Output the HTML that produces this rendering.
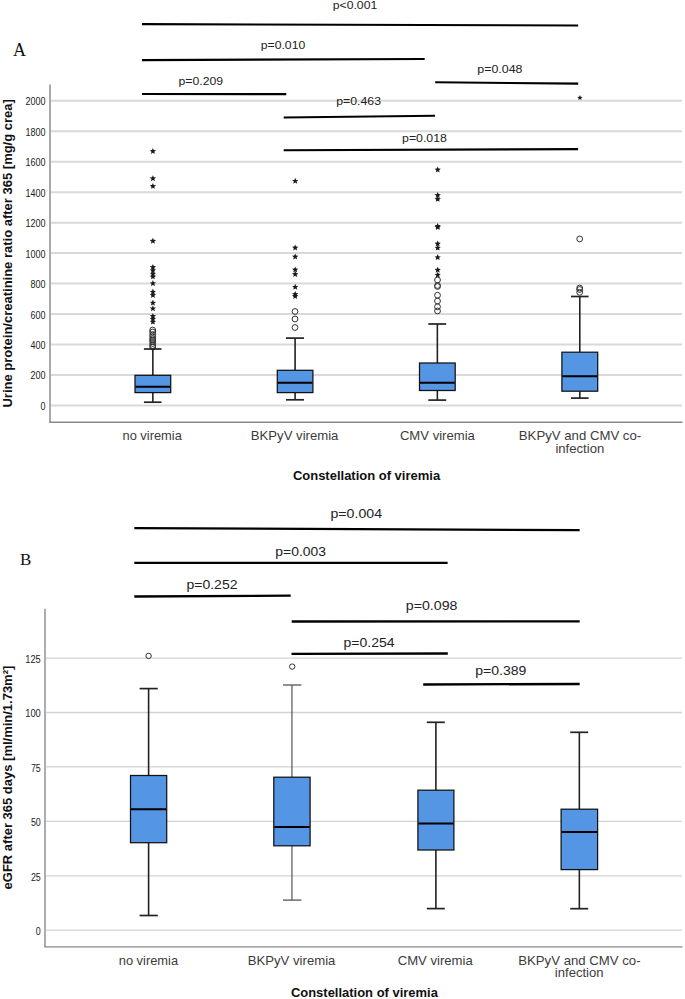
<!DOCTYPE html>
<html><head><meta charset="utf-8"><title>Boxplots</title>
<style>html,body{margin:0;padding:0;background:#fff;}svg{display:block;}

</style></head>
<body><svg width="685" height="999" viewBox="0 0 685 999">
<rect width="685" height="999" fill="#fff"/>
<line x1="51" y1="100.84" x2="682" y2="100.84" stroke="#d9d9d9" stroke-width="2" />
<line x1="51" y1="131.3" x2="682" y2="131.3" stroke="#d9d9d9" stroke-width="2" />
<line x1="51" y1="161.75" x2="682" y2="161.75" stroke="#d9d9d9" stroke-width="2" />
<line x1="51" y1="192.2" x2="682" y2="192.2" stroke="#d9d9d9" stroke-width="2" />
<line x1="51" y1="222.66" x2="682" y2="222.66" stroke="#d9d9d9" stroke-width="2" />
<line x1="51" y1="253.11" x2="682" y2="253.11" stroke="#d9d9d9" stroke-width="2" />
<line x1="51" y1="283.57" x2="682" y2="283.57" stroke="#d9d9d9" stroke-width="2" />
<line x1="51" y1="314.02" x2="682" y2="314.02" stroke="#d9d9d9" stroke-width="2" />
<line x1="51" y1="344.48" x2="682" y2="344.48" stroke="#d9d9d9" stroke-width="2" />
<line x1="51" y1="374.93" x2="682" y2="374.93" stroke="#d9d9d9" stroke-width="2" />
<line x1="51" y1="405.39" x2="682" y2="405.39" stroke="#d9d9d9" stroke-width="2" />
<text x="45.6" y="105.34" font-size="10" fill="#222" text-anchor="end" font-weight="normal" font-family="Liberation Sans, sans-serif" textLength="20.02" lengthAdjust="spacingAndGlyphs" >2000</text>
<text x="45.6" y="135.8" font-size="10" fill="#222" text-anchor="end" font-weight="normal" font-family="Liberation Sans, sans-serif" textLength="20.02" lengthAdjust="spacingAndGlyphs" >1800</text>
<text x="45.6" y="166.25" font-size="10" fill="#222" text-anchor="end" font-weight="normal" font-family="Liberation Sans, sans-serif" textLength="20.02" lengthAdjust="spacingAndGlyphs" >1600</text>
<text x="45.6" y="196.7" font-size="10" fill="#222" text-anchor="end" font-weight="normal" font-family="Liberation Sans, sans-serif" textLength="20.02" lengthAdjust="spacingAndGlyphs" >1400</text>
<text x="45.6" y="227.16" font-size="10" fill="#222" text-anchor="end" font-weight="normal" font-family="Liberation Sans, sans-serif" textLength="20.02" lengthAdjust="spacingAndGlyphs" >1200</text>
<text x="45.6" y="257.62" font-size="10" fill="#222" text-anchor="end" font-weight="normal" font-family="Liberation Sans, sans-serif" textLength="20.02" lengthAdjust="spacingAndGlyphs" >1000</text>
<text x="45.6" y="288.07" font-size="10" fill="#222" text-anchor="end" font-weight="normal" font-family="Liberation Sans, sans-serif" textLength="15.01" lengthAdjust="spacingAndGlyphs" >800</text>
<text x="45.6" y="318.52" font-size="10" fill="#222" text-anchor="end" font-weight="normal" font-family="Liberation Sans, sans-serif" textLength="15.01" lengthAdjust="spacingAndGlyphs" >600</text>
<text x="45.6" y="348.98" font-size="10" fill="#222" text-anchor="end" font-weight="normal" font-family="Liberation Sans, sans-serif" textLength="15.01" lengthAdjust="spacingAndGlyphs" >400</text>
<text x="45.6" y="379.43" font-size="10" fill="#222" text-anchor="end" font-weight="normal" font-family="Liberation Sans, sans-serif" textLength="15.01" lengthAdjust="spacingAndGlyphs" >200</text>
<text x="45.6" y="409.89" font-size="10" fill="#222" text-anchor="end" font-weight="normal" font-family="Liberation Sans, sans-serif" textLength="5.0" lengthAdjust="spacingAndGlyphs" >0</text>
<line x1="50" y1="84.4" x2="50" y2="422.2" stroke="#a9a9a9" stroke-width="2" />
<line x1="49.2" y1="422.2" x2="682.5" y2="422.2" stroke="#888" stroke-width="1.4" />
<polygon points="152.90,148.00 153.77,150.10 156.04,150.28 154.31,151.76 154.84,153.97 152.90,152.79 150.96,153.97 151.49,151.76 149.76,150.28 152.03,150.10" fill="#1a1a1a"/>
<polygon points="152.90,175.20 153.77,177.30 156.04,177.48 154.31,178.96 154.84,181.17 152.90,179.99 150.96,181.17 151.49,178.96 149.76,177.48 152.03,177.30" fill="#1a1a1a"/>
<polygon points="152.90,182.90 153.77,185.00 156.04,185.18 154.31,186.66 154.84,188.87 152.90,187.69 150.96,188.87 151.49,186.66 149.76,185.18 152.03,185.00" fill="#1a1a1a"/>
<polygon points="152.90,237.70 153.77,239.80 156.04,239.98 154.31,241.46 154.84,243.67 152.90,242.49 150.96,243.67 151.49,241.46 149.76,239.98 152.03,239.80" fill="#1a1a1a"/>
<polygon points="152.90,263.90 153.77,266.00 156.04,266.18 154.31,267.66 154.84,269.87 152.90,268.69 150.96,269.87 151.49,267.66 149.76,266.18 152.03,266.00" fill="#1a1a1a"/>
<polygon points="152.90,267.20 153.77,269.30 156.04,269.48 154.31,270.96 154.84,273.17 152.90,271.99 150.96,273.17 151.49,270.96 149.76,269.48 152.03,269.30" fill="#1a1a1a"/>
<polygon points="152.90,270.60 153.77,272.70 156.04,272.88 154.31,274.36 154.84,276.57 152.90,275.39 150.96,276.57 151.49,274.36 149.76,272.88 152.03,272.70" fill="#1a1a1a"/>
<polygon points="152.90,273.40 153.77,275.50 156.04,275.68 154.31,277.16 154.84,279.37 152.90,278.19 150.96,279.37 151.49,277.16 149.76,275.68 152.03,275.50" fill="#1a1a1a"/>
<polygon points="152.90,280.10 153.77,282.20 156.04,282.38 154.31,283.86 154.84,286.07 152.90,284.89 150.96,286.07 151.49,283.86 149.76,282.38 152.03,282.20" fill="#1a1a1a"/>
<polygon points="152.90,288.60 153.77,290.70 156.04,290.88 154.31,292.36 154.84,294.57 152.90,293.39 150.96,294.57 151.49,292.36 149.76,290.88 152.03,290.70" fill="#1a1a1a"/>
<polygon points="152.90,292.00 153.77,294.10 156.04,294.28 154.31,295.76 154.84,297.97 152.90,296.79 150.96,297.97 151.49,295.76 149.76,294.28 152.03,294.10" fill="#1a1a1a"/>
<polygon points="152.90,299.60 153.77,301.70 156.04,301.88 154.31,303.36 154.84,305.57 152.90,304.39 150.96,305.57 151.49,303.36 149.76,301.88 152.03,301.70" fill="#1a1a1a"/>
<polygon points="152.90,305.30 153.77,307.40 156.04,307.58 154.31,309.06 154.84,311.27 152.90,310.09 150.96,311.27 151.49,309.06 149.76,307.58 152.03,307.40" fill="#1a1a1a"/>
<polygon points="152.90,312.90 153.77,315.00 156.04,315.18 154.31,316.66 154.84,318.87 152.90,317.69 150.96,318.87 151.49,316.66 149.76,315.18 152.03,315.00" fill="#1a1a1a"/>
<polygon points="152.90,315.70 153.77,317.80 156.04,317.98 154.31,319.46 154.84,321.67 152.90,320.49 150.96,321.67 151.49,319.46 149.76,317.98 152.03,317.80" fill="#1a1a1a"/>
<polygon points="152.90,318.60 153.77,320.70 156.04,320.88 154.31,322.36 154.84,324.57 152.90,323.39 150.96,324.57 151.49,322.36 149.76,320.88 152.03,320.70" fill="#1a1a1a"/>
<circle cx="152.7" cy="330" r="2.9" fill="none" stroke="#333" stroke-width="1.0"/>
<circle cx="152.7" cy="332" r="2.9" fill="none" stroke="#333" stroke-width="1.0"/>
<circle cx="152.7" cy="334.5" r="2.9" fill="none" stroke="#333" stroke-width="1.0"/>
<circle cx="152.7" cy="336.5" r="2.9" fill="none" stroke="#333" stroke-width="1.0"/>
<circle cx="152.7" cy="338.5" r="2.9" fill="none" stroke="#333" stroke-width="1.0"/>
<circle cx="152.7" cy="340" r="2.9" fill="none" stroke="#333" stroke-width="1.0"/>
<circle cx="152.7" cy="341.5" r="2.9" fill="none" stroke="#333" stroke-width="1.0"/>
<circle cx="152.7" cy="343.5" r="2.9" fill="none" stroke="#333" stroke-width="1.0"/>
<circle cx="152.7" cy="345.5" r="2.9" fill="none" stroke="#333" stroke-width="1.0"/>
<circle cx="152.7" cy="347" r="2.9" fill="none" stroke="#333" stroke-width="1.0"/>
<polygon points="295.20,177.80 296.07,179.90 298.34,180.08 296.61,181.56 297.14,183.77 295.20,182.59 293.26,183.77 293.79,181.56 292.06,180.08 294.33,179.90" fill="#1a1a1a"/>
<polygon points="295.20,244.50 296.07,246.60 298.34,246.78 296.61,248.26 297.14,250.47 295.20,249.29 293.26,250.47 293.79,248.26 292.06,246.78 294.33,246.60" fill="#1a1a1a"/>
<polygon points="295.20,253.50 296.07,255.60 298.34,255.78 296.61,257.26 297.14,259.47 295.20,258.29 293.26,259.47 293.79,257.26 292.06,255.78 294.33,255.60" fill="#1a1a1a"/>
<polygon points="295.20,266.50 296.07,268.60 298.34,268.78 296.61,270.26 297.14,272.47 295.20,271.29 293.26,272.47 293.79,270.26 292.06,268.78 294.33,268.60" fill="#1a1a1a"/>
<polygon points="295.20,271.00 296.07,273.10 298.34,273.28 296.61,274.76 297.14,276.97 295.20,275.79 293.26,276.97 293.79,274.76 292.06,273.28 294.33,273.10" fill="#1a1a1a"/>
<polygon points="295.20,283.80 296.07,285.90 298.34,286.08 296.61,287.56 297.14,289.77 295.20,288.59 293.26,289.77 293.79,287.56 292.06,286.08 294.33,285.90" fill="#1a1a1a"/>
<polygon points="295.20,291.00 296.07,293.10 298.34,293.28 296.61,294.76 297.14,296.97 295.20,295.79 293.26,296.97 293.79,294.76 292.06,293.28 294.33,293.10" fill="#1a1a1a"/>
<polygon points="295.20,293.00 296.07,295.10 298.34,295.28 296.61,296.76 297.14,298.97 295.20,297.79 293.26,298.97 293.79,296.76 292.06,295.28 294.33,295.10" fill="#1a1a1a"/>
<circle cx="295" cy="311.5" r="2.9" fill="none" stroke="#333" stroke-width="1.0"/>
<circle cx="295" cy="319" r="2.9" fill="none" stroke="#333" stroke-width="1.0"/>
<circle cx="295" cy="327.5" r="2.9" fill="none" stroke="#333" stroke-width="1.0"/>
<polygon points="437.70,166.50 438.57,168.60 440.84,168.78 439.11,170.26 439.64,172.47 437.70,171.29 435.76,172.47 436.29,170.26 434.56,168.78 436.83,168.60" fill="#1a1a1a"/>
<polygon points="437.70,192.00 438.57,194.10 440.84,194.28 439.11,195.76 439.64,197.97 437.70,196.79 435.76,197.97 436.29,195.76 434.56,194.28 436.83,194.10" fill="#1a1a1a"/>
<polygon points="437.70,195.90 438.57,198.00 440.84,198.18 439.11,199.66 439.64,201.87 437.70,200.69 435.76,201.87 436.29,199.66 434.56,198.18 436.83,198.00" fill="#1a1a1a"/>
<polygon points="437.70,223.00 438.57,225.10 440.84,225.28 439.11,226.76 439.64,228.97 437.70,227.79 435.76,228.97 436.29,226.76 434.56,225.28 436.83,225.10" fill="#1a1a1a"/>
<polygon points="437.70,224.00 438.57,226.10 440.84,226.28 439.11,227.76 439.64,229.97 437.70,228.79 435.76,229.97 436.29,227.76 434.56,226.28 436.83,226.10" fill="#1a1a1a"/>
<polygon points="437.70,240.50 438.57,242.60 440.84,242.78 439.11,244.26 439.64,246.47 437.70,245.29 435.76,246.47 436.29,244.26 434.56,242.78 436.83,242.60" fill="#1a1a1a"/>
<polygon points="437.70,244.60 438.57,246.70 440.84,246.88 439.11,248.36 439.64,250.57 437.70,249.39 435.76,250.57 436.29,248.36 434.56,246.88 436.83,246.70" fill="#1a1a1a"/>
<polygon points="437.70,254.10 438.57,256.20 440.84,256.38 439.11,257.86 439.64,260.07 437.70,258.89 435.76,260.07 436.29,257.86 434.56,256.38 436.83,256.20" fill="#1a1a1a"/>
<polygon points="437.70,266.75 438.57,268.85 440.84,269.03 439.11,270.51 439.64,272.72 437.70,271.54 435.76,272.72 436.29,270.51 434.56,269.03 436.83,268.85" fill="#1a1a1a"/>
<polygon points="437.70,271.75 438.57,273.85 440.84,274.03 439.11,275.51 439.64,277.72 437.70,276.54 435.76,277.72 436.29,275.51 434.56,274.03 436.83,273.85" fill="#1a1a1a"/>
<circle cx="437.5" cy="280" r="2.9" fill="none" stroke="#333" stroke-width="1.0"/>
<circle cx="437.5" cy="285.5" r="2.9" fill="none" stroke="#333" stroke-width="1.0"/>
<circle cx="437.5" cy="286.5" r="2.9" fill="none" stroke="#333" stroke-width="1.0"/>
<circle cx="437.5" cy="295.25" r="2.9" fill="none" stroke="#333" stroke-width="1.0"/>
<circle cx="437.5" cy="301" r="2.9" fill="none" stroke="#333" stroke-width="1.0"/>
<circle cx="437.5" cy="306.75" r="2.9" fill="none" stroke="#333" stroke-width="1.0"/>
<circle cx="437.5" cy="311" r="2.9" fill="none" stroke="#333" stroke-width="1.0"/>
<polygon points="579.90,95.00 580.64,96.78 582.56,96.93 581.10,98.19 581.55,100.07 579.90,99.06 578.25,100.07 578.70,98.19 577.24,96.93 579.16,96.78" fill="#1a1a1a"/>
<circle cx="579.7" cy="238.9" r="2.9" fill="none" stroke="#333" stroke-width="1.0"/>
<circle cx="579.7" cy="288" r="2.9" fill="none" stroke="#333" stroke-width="1.0"/>
<circle cx="579.7" cy="289.5" r="2.9" fill="none" stroke="#333" stroke-width="1.0"/>
<circle cx="579.7" cy="292.3" r="2.9" fill="none" stroke="#333" stroke-width="1.0"/>
<line x1="152.85" y1="349.0" x2="152.85" y2="375.3" stroke="#222" stroke-width="1.6" />
<line x1="152.85" y1="392.6" x2="152.85" y2="402.2" stroke="#222" stroke-width="1.6" />
<line x1="143.9" y1="349.0" x2="161.5" y2="349.0" stroke="#222" stroke-width="1.7000000000000002" />
<line x1="143.9" y1="402.2" x2="161.5" y2="402.2" stroke="#222" stroke-width="1.7000000000000002" />
<rect x="135.0" y="375.3" width="35.7" height="17.3" fill="#5495e4" stroke="#111" stroke-width="1.25"/>
<line x1="135.5" y1="386.7" x2="170.2" y2="386.7" stroke="#000" stroke-width="2.0" />
<line x1="295.1" y1="338.1" x2="295.1" y2="370.3" stroke="#222" stroke-width="1.6" />
<line x1="295.1" y1="392.6" x2="295.1" y2="399.8" stroke="#222" stroke-width="1.6" />
<line x1="286" y1="338.1" x2="304" y2="338.1" stroke="#222" stroke-width="1.7000000000000002" />
<line x1="286" y1="399.8" x2="304" y2="399.8" stroke="#222" stroke-width="1.7000000000000002" />
<rect x="277.3" y="370.3" width="35.6" height="22.3" fill="#5495e4" stroke="#111" stroke-width="1.25"/>
<line x1="277.8" y1="382.8" x2="312.4" y2="382.8" stroke="#000" stroke-width="2.0" />
<line x1="437.35" y1="324" x2="437.35" y2="363" stroke="#222" stroke-width="1.6" />
<line x1="437.35" y1="390.5" x2="437.35" y2="400.1" stroke="#222" stroke-width="1.6" />
<line x1="428.3" y1="324" x2="446.2" y2="324" stroke="#222" stroke-width="1.7000000000000002" />
<line x1="428.3" y1="400.1" x2="446.2" y2="400.1" stroke="#222" stroke-width="1.7000000000000002" />
<rect x="419.5" y="363" width="35.7" height="27.5" fill="#5495e4" stroke="#111" stroke-width="1.25"/>
<line x1="420.0" y1="382.7" x2="454.7" y2="382.7" stroke="#000" stroke-width="2.0" />
<line x1="579.8" y1="296.5" x2="579.8" y2="352.2" stroke="#222" stroke-width="1.6" />
<line x1="579.8" y1="391.2" x2="579.8" y2="398.1" stroke="#222" stroke-width="1.6" />
<line x1="571" y1="296.5" x2="588.6" y2="296.5" stroke="#222" stroke-width="1.7000000000000002" />
<line x1="571" y1="398.1" x2="588.6" y2="398.1" stroke="#222" stroke-width="1.7000000000000002" />
<rect x="561.9" y="352.2" width="35.8" height="39.0" fill="#5495e4" stroke="#111" stroke-width="1.25"/>
<line x1="562.4" y1="376.3" x2="597.2" y2="376.3" stroke="#000" stroke-width="2.0" />
<line x1="142" y1="24.1" x2="578.2" y2="25.5" stroke="#000" stroke-width="2.1" />
<line x1="142" y1="60.1" x2="424.7" y2="59" stroke="#000" stroke-width="2.1" />
<line x1="142" y1="94.0" x2="286.3" y2="94.1" stroke="#000" stroke-width="2.1" />
<line x1="435.2" y1="82.3" x2="578.2" y2="83.6" stroke="#000" stroke-width="2.1" />
<line x1="283.7" y1="117.5" x2="435.0" y2="115.8" stroke="#000" stroke-width="2.1" />
<line x1="283.7" y1="150.3" x2="578.1" y2="149.1" stroke="#000" stroke-width="2.1" />
<text x="332.8" y="9.1" font-size="11.8" fill="#222" text-anchor="start" font-weight="normal" font-family="Liberation Sans, sans-serif" textLength="44.4" lengthAdjust="spacingAndGlyphs" >p&lt;0.001</text>
<text x="260.8" y="49.2" font-size="11.8" fill="#222" text-anchor="start" font-weight="normal" font-family="Liberation Sans, sans-serif" textLength="44.4" lengthAdjust="spacingAndGlyphs" >p=0.010</text>
<text x="178.5" y="85.1" font-size="11.8" fill="#222" text-anchor="start" font-weight="normal" font-family="Liberation Sans, sans-serif" textLength="44.6" lengthAdjust="spacingAndGlyphs" >p=0.209</text>
<text x="477.3" y="73.4" font-size="11.8" fill="#222" text-anchor="start" font-weight="normal" font-family="Liberation Sans, sans-serif" textLength="45.2" lengthAdjust="spacingAndGlyphs" >p=0.048</text>
<text x="336.3" y="105.1" font-size="11.8" fill="#222" text-anchor="start" font-weight="normal" font-family="Liberation Sans, sans-serif" textLength="44.7" lengthAdjust="spacingAndGlyphs" >p=0.463</text>
<text x="402.1" y="141.5" font-size="11.8" fill="#222" text-anchor="start" font-weight="normal" font-family="Liberation Sans, sans-serif" textLength="44.8" lengthAdjust="spacingAndGlyphs" >p=0.018</text>
<text transform="translate(152.15,440.1) scale(1,1.06)" font-size="12.8" fill="#3c3c3c" text-anchor="middle" font-weight="normal" font-family="Liberation Sans, sans-serif" textLength="59.3" lengthAdjust="spacingAndGlyphs" >no viremia</text>
<text transform="translate(294.6,440.1) scale(1,1.06)" font-size="12.8" fill="#3c3c3c" text-anchor="middle" font-weight="normal" font-family="Liberation Sans, sans-serif" textLength="87.6" lengthAdjust="spacingAndGlyphs" >BKPyV viremia</text>
<text transform="translate(437.4,440.1) scale(1,1.06)" font-size="12.8" fill="#3c3c3c" text-anchor="middle" font-weight="normal" font-family="Liberation Sans, sans-serif" textLength="75" lengthAdjust="spacingAndGlyphs" >CMV viremia</text>
<text transform="translate(580,440.1) scale(1,1.06)" font-size="12.8" fill="#3c3c3c" text-anchor="middle" font-weight="normal" font-family="Liberation Sans, sans-serif" textLength="122.4" lengthAdjust="spacingAndGlyphs" >BKPyV and CMV co-</text>
<text transform="translate(579.8,452.5) scale(1,1.06)" font-size="12.8" fill="#3c3c3c" text-anchor="middle" font-weight="normal" font-family="Liberation Sans, sans-serif" textLength="48.8" lengthAdjust="spacingAndGlyphs" >infection</text>
<text transform="translate(366.5,479.6) scale(1,1.06)" font-size="12.9" fill="#111" text-anchor="middle" font-weight="bold" font-family="Liberation Sans, sans-serif" textLength="147.2" lengthAdjust="spacingAndGlyphs" >Constellation of viremia</text>
<text transform="translate(11.5,253.35) rotate(-90) scale(1,1.02)" font-size="12.9" textLength="308.4" lengthAdjust="spacingAndGlyphs" font-weight="bold" fill="#111" text-anchor="middle" font-family="Liberation Sans, sans-serif">Urine protein/creatinine ratio after 365 [mg/g crea]</text>
<text x="12.9" y="55.6" font-size="18" fill="#111" text-anchor="start" font-weight="normal" font-family="Liberation Serif, serif" >A</text>
<line x1="45.5" y1="930.2" x2="682" y2="930.2" stroke="#d3d3d3" stroke-width="1.3" />
<line x1="45.5" y1="875.78" x2="682" y2="875.78" stroke="#d3d3d3" stroke-width="1.3" />
<line x1="45.5" y1="821.36" x2="682" y2="821.36" stroke="#d3d3d3" stroke-width="1.3" />
<line x1="45.5" y1="766.94" x2="682" y2="766.94" stroke="#d3d3d3" stroke-width="1.3" />
<line x1="45.5" y1="712.52" x2="682" y2="712.52" stroke="#d3d3d3" stroke-width="1.3" />
<line x1="45.5" y1="658.1" x2="682" y2="658.1" stroke="#d3d3d3" stroke-width="1.3" />
<text x="40.8" y="935.0" font-size="10" fill="#222" text-anchor="end" font-weight="normal" font-family="Liberation Sans, sans-serif" textLength="4.95" lengthAdjust="spacingAndGlyphs" >0</text>
<text x="40.8" y="880.58" font-size="10" fill="#222" text-anchor="end" font-weight="normal" font-family="Liberation Sans, sans-serif" textLength="9.9" lengthAdjust="spacingAndGlyphs" >25</text>
<text x="40.8" y="826.16" font-size="10" fill="#222" text-anchor="end" font-weight="normal" font-family="Liberation Sans, sans-serif" textLength="9.9" lengthAdjust="spacingAndGlyphs" >50</text>
<text x="40.8" y="771.74" font-size="10" fill="#222" text-anchor="end" font-weight="normal" font-family="Liberation Sans, sans-serif" textLength="9.9" lengthAdjust="spacingAndGlyphs" >75</text>
<text x="40.8" y="717.32" font-size="10" fill="#222" text-anchor="end" font-weight="normal" font-family="Liberation Sans, sans-serif" textLength="15.51" lengthAdjust="spacingAndGlyphs" >100</text>
<text x="40.8" y="662.9" font-size="10" fill="#222" text-anchor="end" font-weight="normal" font-family="Liberation Sans, sans-serif" textLength="15.51" lengthAdjust="spacingAndGlyphs" >125</text>
<line x1="45.0" y1="608.7" x2="45.0" y2="946.9" stroke="#a9a9a9" stroke-width="1.9" />
<line x1="44.2" y1="946.9" x2="682.5" y2="946.9" stroke="#888" stroke-width="1.4" />
<circle cx="148.6" cy="655.9" r="2.7" fill="none" stroke="#333" stroke-width="1.0"/>
<circle cx="292.2" cy="666.6" r="2.7" fill="none" stroke="#333" stroke-width="1.0"/>
<line x1="148.6" y1="688.6" x2="148.6" y2="775.5" stroke="#222" stroke-width="1.6" />
<line x1="148.6" y1="842.7" x2="148.6" y2="915.5" stroke="#222" stroke-width="1.6" />
<line x1="139.6" y1="688.6" x2="157.8" y2="688.6" stroke="#222" stroke-width="1.7000000000000002" />
<line x1="139.6" y1="915.5" x2="157.8" y2="915.5" stroke="#222" stroke-width="1.7000000000000002" />
<rect x="130.5" y="775.5" width="36.2" height="67.2" fill="#5495e4" stroke="#111" stroke-width="1.25"/>
<line x1="131.0" y1="809.2" x2="166.2" y2="809.2" stroke="#000" stroke-width="2.0" />
<line x1="291.95" y1="685" x2="291.95" y2="777.2" stroke="#555" stroke-width="1.2" />
<line x1="291.95" y1="845.8" x2="291.95" y2="900.1" stroke="#555" stroke-width="1.2" />
<line x1="283" y1="685" x2="301.4" y2="685" stroke="#555" stroke-width="1.3" />
<line x1="283" y1="900.1" x2="301.4" y2="900.1" stroke="#555" stroke-width="1.3" />
<rect x="273.8" y="777.2" width="36.3" height="68.6" fill="#5495e4" stroke="#111" stroke-width="1.25"/>
<line x1="274.3" y1="826.9" x2="309.6" y2="826.9" stroke="#000" stroke-width="2.0" />
<line x1="435.9" y1="722.3" x2="435.9" y2="790.2" stroke="#222" stroke-width="1.6" />
<line x1="435.9" y1="850" x2="435.9" y2="908.6" stroke="#222" stroke-width="1.6" />
<line x1="426.8" y1="722.3" x2="444.8" y2="722.3" stroke="#222" stroke-width="1.7000000000000002" />
<line x1="426.8" y1="908.6" x2="444.8" y2="908.6" stroke="#222" stroke-width="1.7000000000000002" />
<rect x="417.9" y="790.2" width="36.0" height="59.8" fill="#5495e4" stroke="#111" stroke-width="1.25"/>
<line x1="418.4" y1="823.4" x2="453.4" y2="823.4" stroke="#000" stroke-width="2.0" />
<line x1="579.35" y1="732.3" x2="579.35" y2="809.2" stroke="#222" stroke-width="1.6" />
<line x1="579.35" y1="869.6" x2="579.35" y2="908.7" stroke="#222" stroke-width="1.6" />
<line x1="570.2" y1="732.3" x2="588.2" y2="732.3" stroke="#222" stroke-width="1.7000000000000002" />
<line x1="570.2" y1="908.7" x2="588.2" y2="908.7" stroke="#222" stroke-width="1.7000000000000002" />
<rect x="561.1" y="809.2" width="36.5" height="60.4" fill="#5495e4" stroke="#111" stroke-width="1.25"/>
<line x1="561.6" y1="832" x2="597.1" y2="832" stroke="#000" stroke-width="2.0" />
<line x1="134.3" y1="528.2" x2="579.6" y2="530.1" stroke="#000" stroke-width="2.3" />
<line x1="134.3" y1="562.9" x2="447.6" y2="562.8" stroke="#000" stroke-width="2.3" />
<line x1="134.3" y1="596.5" x2="290.7" y2="595.6" stroke="#000" stroke-width="2.3" />
<line x1="291.7" y1="621.5" x2="579.7" y2="621.3" stroke="#000" stroke-width="2.3" />
<line x1="291.5" y1="653.8" x2="447.8" y2="653.5" stroke="#000" stroke-width="2.3" />
<line x1="423.2" y1="684.5" x2="579.7" y2="684" stroke="#000" stroke-width="2.3" />
<text x="330.5" y="518" font-size="13.2" fill="#222" text-anchor="start" font-weight="normal" font-family="Liberation Sans, sans-serif" textLength="51.5" lengthAdjust="spacingAndGlyphs" >p=0.004</text>
<text x="275.3" y="556.2" font-size="13.2" fill="#222" text-anchor="start" font-weight="normal" font-family="Liberation Sans, sans-serif" textLength="50.7" lengthAdjust="spacingAndGlyphs" >p=0.003</text>
<text x="186.4" y="589.1" font-size="13.2" fill="#222" text-anchor="start" font-weight="normal" font-family="Liberation Sans, sans-serif" textLength="51.1" lengthAdjust="spacingAndGlyphs" >p=0.252</text>
<text x="405.8" y="609.5" font-size="13.2" fill="#222" text-anchor="start" font-weight="normal" font-family="Liberation Sans, sans-serif" textLength="51.7" lengthAdjust="spacingAndGlyphs" >p=0.098</text>
<text x="343.5" y="647.1" font-size="13.2" fill="#222" text-anchor="start" font-weight="normal" font-family="Liberation Sans, sans-serif" textLength="51.0" lengthAdjust="spacingAndGlyphs" >p=0.254</text>
<text x="475.2" y="674.7" font-size="13.2" fill="#222" text-anchor="start" font-weight="normal" font-family="Liberation Sans, sans-serif" textLength="51.2" lengthAdjust="spacingAndGlyphs" >p=0.389</text>
<text transform="translate(148.4,964.8) scale(1,1.06)" font-size="12.8" fill="#3c3c3c" text-anchor="middle" font-weight="normal" font-family="Liberation Sans, sans-serif" textLength="59.3" lengthAdjust="spacingAndGlyphs" >no viremia</text>
<text transform="translate(291.55,965.0) scale(1,1.06)" font-size="12.8" fill="#3c3c3c" text-anchor="middle" font-weight="normal" font-family="Liberation Sans, sans-serif" textLength="87.6" lengthAdjust="spacingAndGlyphs" >BKPyV viremia</text>
<text transform="translate(435.2,964.9) scale(1,1.06)" font-size="12.8" fill="#3c3c3c" text-anchor="middle" font-weight="normal" font-family="Liberation Sans, sans-serif" textLength="75" lengthAdjust="spacingAndGlyphs" >CMV viremia</text>
<text transform="translate(579.4,964.6) scale(1,1.06)" font-size="12.8" fill="#3c3c3c" text-anchor="middle" font-weight="normal" font-family="Liberation Sans, sans-serif" textLength="122.4" lengthAdjust="spacingAndGlyphs" >BKPyV and CMV co-</text>
<text transform="translate(579.2,977.2) scale(1,1.06)" font-size="12.8" fill="#3c3c3c" text-anchor="middle" font-weight="normal" font-family="Liberation Sans, sans-serif" textLength="48.8" lengthAdjust="spacingAndGlyphs" >infection</text>
<text transform="translate(364.4,996.6) scale(1,1.06)" font-size="12.9" fill="#111" text-anchor="middle" font-weight="bold" font-family="Liberation Sans, sans-serif" textLength="147.0" lengthAdjust="spacingAndGlyphs" >Constellation of viremia</text>
<text transform="translate(11.5,777.55) rotate(-90) scale(1,1.02)" font-size="12.9" textLength="223.7" lengthAdjust="spacingAndGlyphs" font-weight="bold" fill="#111" text-anchor="middle" font-family="Liberation Sans, sans-serif">eGFR after 365 days [ml/min/1.73m²]</text>
<text x="19.9" y="564.9" font-size="17" fill="#111" text-anchor="start" font-weight="normal" font-family="Liberation Serif, serif" >B</text>
</svg></body></html>
